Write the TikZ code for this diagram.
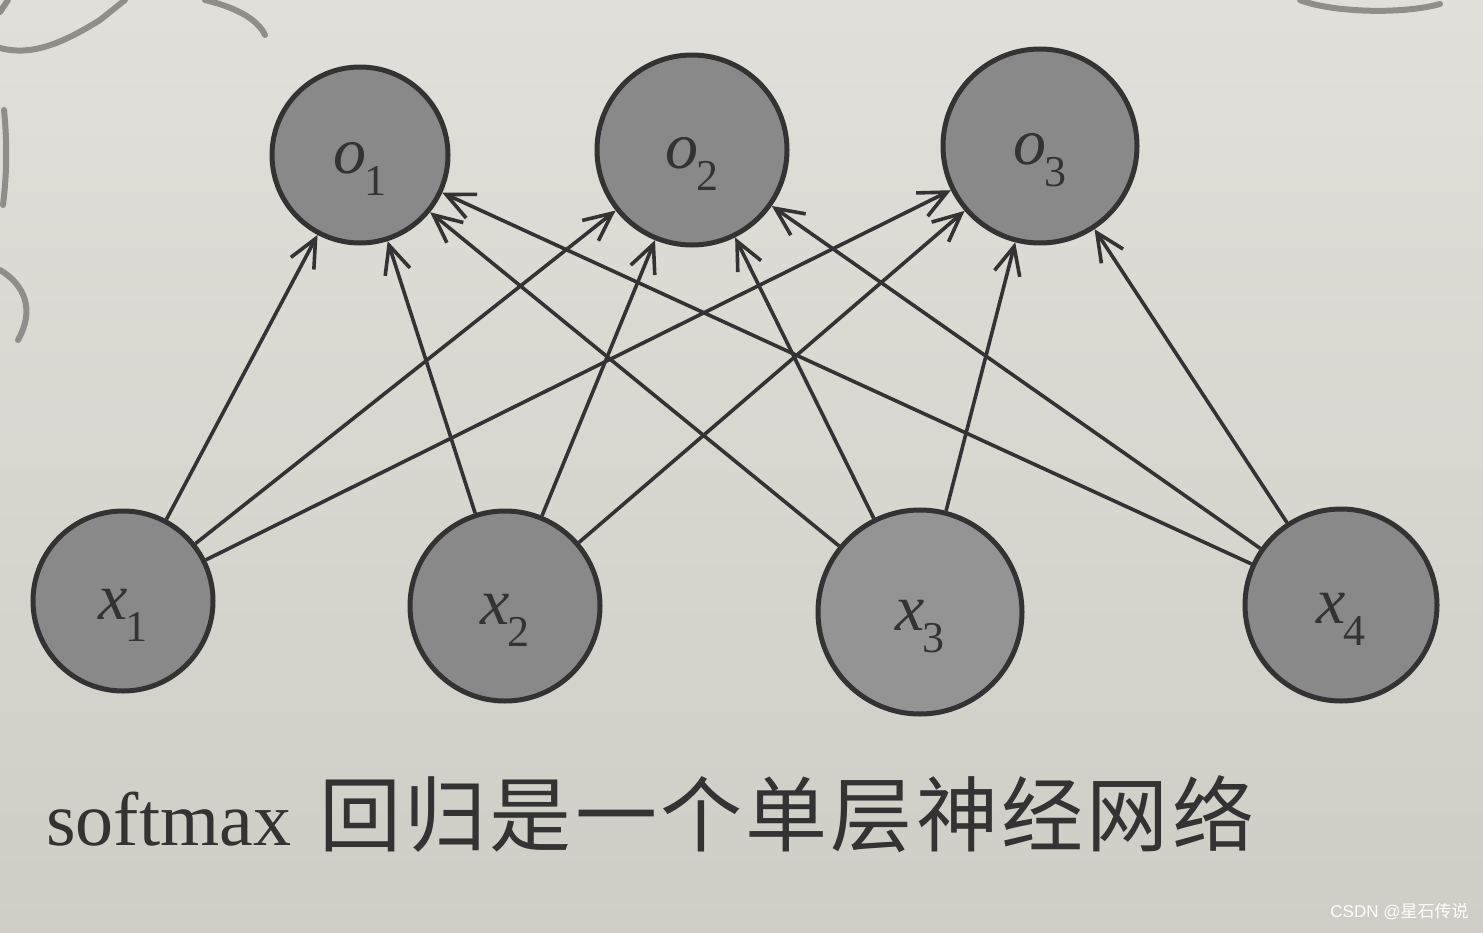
\documentclass[tikz,border=0pt]{standalone}
\usepackage{fontspec}
\setmainfont{Liberation Serif}
\newfontfamily\cjk{Noto Sans CJK SC}
\newfontfamily\cjkcap[LetterSpace=4]{Noto Sans CJK SC}
\newfontfamily\wmfont{Liberation Sans}
\usetikzlibrary{arrows.meta}
\definecolor{papertop}{HTML}{E0DFD9}
\definecolor{paperbot}{HTML}{CFCEC6}
\definecolor{ink}{HTML}{333333}
\definecolor{nodegray}{HTML}{898989}
\definecolor{nodelight}{HTML}{949494}
\definecolor{scribble}{HTML}{8E8E8A}
\newcommand{\nlab}[2]{{\fontsize{33}{36}\selectfont\itshape #1}\kern-1pt\raisebox{-11pt}{\fontsize{22}{24}\selectfont\upshape #2}}
\tikzset{
  neuron/.style={circle, draw=ink, line width=2.5pt, fill=nodegray, inner sep=0pt, text=ink, text height=29pt, text depth=11pt},
  link/.style={draw=ink, line width=1.8pt, -{Straight Barb[length=14pt,width=13pt]}},
  scrib/.style={draw=scribble, line width=3pt, line cap=round},
  captext/.style={anchor=base west, inner sep=0pt, text=ink},
  watermark/.style={anchor=west, inner sep=0pt, text=white}
}
\begin{document}
\begin{tikzpicture}[x=0.5pt,y=-0.5pt]
\useasboundingbox (0,0) rectangle (1483,932);
\shade[top color=papertop, bottom color=paperbot] (0,0) rectangle (1483,932);

% pen scribbles on the page
\draw[scrib] (0,48) .. controls (30,56) and (60,45) .. (100,20) -- (125,0);
\draw[scrib] (205,0) .. controls (238,8) and (258,20) .. (265,35);
\draw[scrib] (0,12) -- (8,0);
\draw[scrib] (1300,0) .. controls (1330,12) and (1400,15) .. (1440,4);
\draw[scrib] (4,110) .. controls (8,150) and (6,180) .. (3,205);
\draw[scrib] (0,270) .. controls (25,285) and (35,310) .. (18,340);

% output layer
\node[neuron, minimum size=88pt] (o1) at (360,155) {\nlab{o}{1}};
\node[neuron, minimum size=95pt] (o2) at (692,150) {\nlab{o}{2}};
\node[neuron, minimum size=97pt] (o3) at (1040,146) {\nlab{o}{3}};

% input layer
\node[neuron, minimum size=90pt] (x1) at (123,601) {\nlab{x}{1}};
\node[neuron, minimum size=95pt] (x2) at (505,606) {\nlab{x}{2}};
\node[neuron, minimum size=102pt, fill=nodelight] (x3) at (920,612) {\nlab{x}{3}};
\node[neuron, minimum size=96pt] (x4) at (1341,605) {\nlab{x}{4}};

% connections
\foreach \i in {1,...,4}{
  \foreach \j in {1,2,3}{
    \draw[link] (x\i) -- (o\j);
  }
}

% caption
\node[captext] (cap) at (46,845) {\fontsize{38}{40}\selectfont softmax\hspace{14pt}{\cjkcap\fontsize{41}{44}\selectfont 回归是一个单层神经网络}};

% watermark
\node[watermark] (wm) at (1330,912) {\fontsize{8.5}{10}\selectfont\wmfont CSDN @{\cjk 星石传说}};
\end{tikzpicture}
\end{document}
